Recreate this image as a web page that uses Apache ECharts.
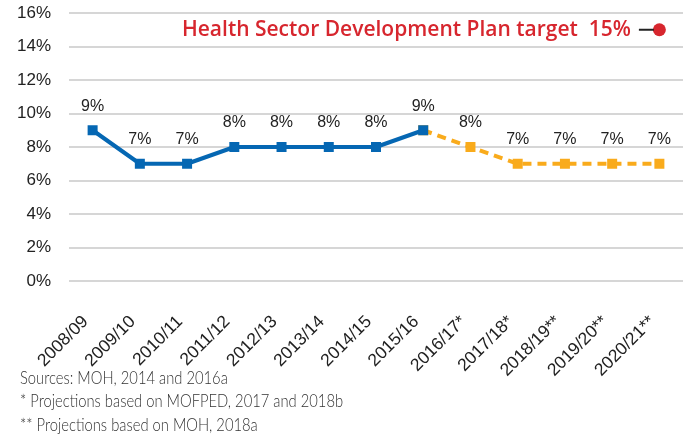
<!DOCTYPE html>
<html>
<head>
<meta charset="utf-8">
<script src="https://cdn.jsdelivr.net/npm/echarts@6/dist/echarts.min.js"></script>
<style>
  html, body { margin: 0; padding: 0; background: #fff; }
  #chart { width: 687px; height: 438px; }
</style>
</head>
<body>
<div id="chart"></div>
<script>
// Fiscal years on the x axis; starred years are projections
const years = ['2008/09', '2009/10', '2010/11', '2011/12', '2012/13', '2013/14', '2014/15',
  '2015/16', '2016/17*', '2017/18*', '2018/19**', '2019/20**', '2020/21**'];
// Health share of the budget (%) — actual outturns
const actualShare = [9, 7, 7, 8, 8, 8, 8, 9, null, null, null, null, null];
// Projected share (%) continuing from the last actual year
const projectedShare = [null, null, null, null, null, null, null, 9, 8, 7, 7, 7, 7];
// Health Sector Development Plan target (%)
const targetShare = 15;
const targetLabel = 'Health Sector Development Plan target';
const yTicks = [0, 2, 4, 6, 8, 10, 12, 14, 16];
const notes = [
  'Sources: MOH, 2014 and 2016a',
  '* Projections based on MOFPED, 2017 and 2018b',
  '** Projections based on MOH, 2018a'
];

const chart = echarts.init(document.getElementById('chart'));

const valueLabel = {
  show: true,
  position: 'top',
  distance: 11,
  color: '#222',
  fontFamily: 'Liberation Sans, Arial, sans-serif',
  fontSize: 16,
  formatter: p => p.value + '%'
};

chart.setOption({
  animation: false,
  grid: { left: 69, right: 4, top: 13, bottom: 157, outerBoundsMode: 'none' },
  xAxis: {
    type: 'category',
    data: years,
    boundaryGap: true,
    axisLine: { show: false },
    axisTick: { show: false },
    axisLabel: {
      rotate: 45,
      interval: 0,
      margin: 31,
      padding: [0, 10, 0, 0],
      color: '#222',
      fontFamily: 'Liberation Sans, Arial, sans-serif',
      fontSize: 17.5
    }
  },
  yAxis: {
    type: 'value',
    min: yTicks[0],
    max: yTicks[yTicks.length - 1],
    interval: 2,
    axisLine: { show: false },
    axisTick: { show: false },
    splitLine: { lineStyle: { color: '#c8c8c8', width: 1.5 } },
    axisLabel: {
      margin: 18,
      color: '#222',
      fontFamily: 'Liberation Sans, Arial, sans-serif',
      fontSize: 17,
      formatter: v => v + '%'
    }
  },
  series: [
    {
      name: 'Projected',
      type: 'line',
      data: projectedShare,
      z: 2,
      symbol: 'rect',
      symbolSize: 10,
      itemStyle: { color: '#f9ab1c' },
      lineStyle: { color: '#f9ab1c', width: 4, type: [9, 6] },
      label: Object.assign({}, valueLabel, {
        formatter: p => (p.dataIndex === 7 ? '' : p.value + '%')
      })
    },
    {
      name: 'Actual',
      type: 'line',
      data: actualShare,
      z: 3,
      symbol: 'rect',
      symbolSize: 10,
      itemStyle: { color: '#0567b3' },
      lineStyle: { color: '#0567b3', width: 4 },
      label: valueLabel
    },
    {
      name: 'Target',
      type: 'scatter',
      data: [[years.length - 1, targetShare]],
      symbol: 'circle',
      symbolSize: 13,
      itemStyle: { color: '#d7262e', opacity: 1 },
      z: 4,
      label: {
        show: true,
        position: 'left',
        distance: -1,
        formatter: () => '{t|' + targetLabel + '  ' + targetShare + '%}{g| }{d|}',
        rich: {
          t: {
            color: '#d7262e',
            fontFamily: 'Open Sans, sans-serif',
            fontWeight: 600,
            fontSize: 21
          },
          g: { width: 8 },
          d: { width: 15, height: 2, backgroundColor: '#222' }
        }
      }
    }
  ],
  graphic: [{
    type: 'group',
    left: 20,
    top: 369,
    scaleX: 0.82,
    children: notes.map((t, i) => ({
      type: 'text',
      x: 0,
      y: i * 23.5,
      style: {
        text: t,
        fill: '#333',
        font: '300 18px Lato, sans-serif'
      }
    }))
  }]
});
</script>
</body>
</html>
